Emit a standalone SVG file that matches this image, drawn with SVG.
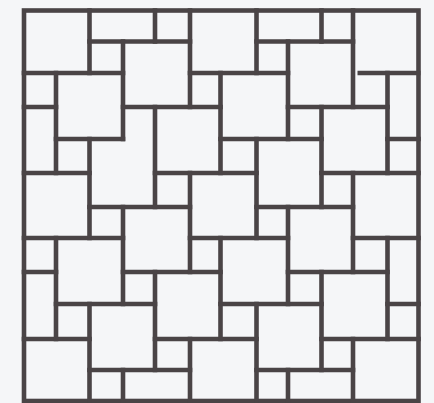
<svg xmlns="http://www.w3.org/2000/svg" width="434" height="403" viewBox="0 0 434 403">
  <style>
    .bg { fill: #f5f6f8; }
    .ln { fill: none; stroke: #4a4446; stroke-width: 4.6; stroke-linecap: square; stroke-linejoin: miter; }
    .gap { stroke-linecap: butt; }
  </style>
  <rect class="bg" x="0" y="0" width="434" height="403"/>
  <g id="frame">
    <rect class="ln" x="24" y="10.5" width="394.5" height="390.5"/>
  </g>
  <g id="joints-horizontal">
    <path class="ln" d="M89.5 41.5 H190 M256.5 41.5 H353
      M24 73 H123 M190 73 H288
      M24 107 H56 M123 107 H220.5 M288 107 H387.5
      M56 139 H123 M220.5 139 H321.5 M387.5 139 H418.5
      M24 173 H89.5 M155 173 H256.5 M321.5 173 H418.5
      M89.5 207 H190 M256.5 207 H353
      M24 238 H123 M190 238 H288 M353 238 H418.5
      M24 272 H56 M123 272 H220.5 M288 272 H387.5
      M56 304 H155 M220.5 304 H321.5 M387.5 304 H418.5
      M24 339 H89.5 M155 339 H256.5 M321.5 339 H418.5
      M89.5 370 H190 M256.5 370 H353"/>
    <path class="ln gap" d="M357.5 73 H420.5"/>
  </g>
  <g id="joints-vertical">
    <path class="ln" d="M56 73 V173 M56 238 V339
      M89.5 10.5 V73 M89.5 139 V238 M89.5 304 V401
      M123 41.5 V139 M123 207 V304 M123 370 V401
      M155 10.5 V41.5 M155 107 V207 M155 272 V370
      M190 10.5 V107 M190 173 V272 M190 339 V401
      M220.5 73 V173 M220.5 238 V339
      M256.5 10.5 V73 M256.5 139 V238 M256.5 304 V401
      M288 41.5 V139 M288 207 V304 M288 370 V401
      M321.5 10.5 V41.5 M321.5 107 V207 M321.5 272 V370
      M353 10.5 V107 M353 173 V272 M353 339 V401
      M387.5 73 V173 M387.5 238 V339"/>
  </g>
</svg>
